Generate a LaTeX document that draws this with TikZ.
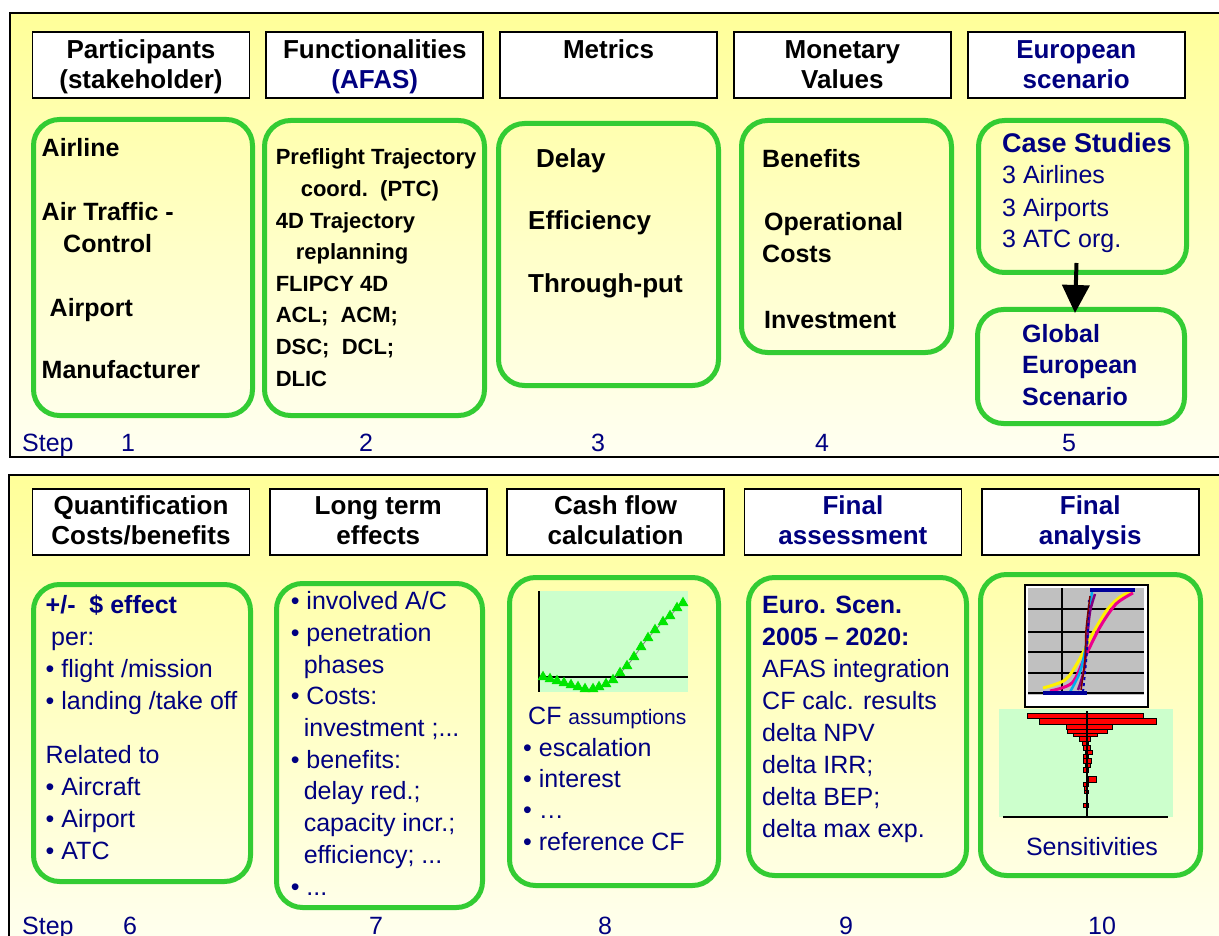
\documentclass[tikz,border=0pt]{standalone}
\usepackage{fontspec}
\setmainfont{Liberation Sans}
\usepackage{xcolor}
\usepackage{tikz}
\usetikzlibrary{arrows.meta,positioning,calc,plotmarks}

\definecolor{navy}{RGB}{0,0,128}
\definecolor{boxgreen}{RGB}{51,204,51}
\definecolor{paleyellow}{RGB}{255,255,153}
\definecolor{paleend}{RGB}{255,255,242}
\definecolor{mint}{RGB}{204,255,204}
\definecolor{markgreen}{RGB}{0,230,0}
\definecolor{silver}{RGB}{192,192,192}

\newcommand\hdfont{\fontsize{26}{30}\selectfont\bfseries}
\newcommand\bdfont{\fontsize{25}{32}\selectfont}

\begin{document}
\begin{tikzpicture}[
  x=1pt, y=-1pt,
  node distance=15pt,
  >=Latex,
  head/.style={draw, line width=1.8pt, fill=white, minimum width=217pt, minimum height=66pt,
    align=center, inner sep=0pt, font=\hdfont},
  headtxt/.style={anchor=base, inner sep=0pt, font=\hdfont},
  gbox/.style={draw=boxgreen, line width=5pt, rounded corners=26pt, anchor=north west, inner sep=0pt},
  txt/.style={anchor=base west, align=left, inner sep=0pt, font=\bdfont},
  stepno/.style={anchor=base, inner sep=0pt, text=navy, font=\fontsize{25}{30}\selectfont},
  panel/.style={draw, line width=2pt, top color=paleyellow, bottom color=paleend},
  bar/.style={draw, fill=red, line width=0.8pt}
]
\useasboundingbox (0,0) rectangle (1219,936);
\clip (0,0) rectangle (1219,936);

% two panels
\draw[panel] (10,13) rectangle (1240,457);
\draw[panel] (9,475) rectangle (1240,960);

% ---- steps 1 to 5
\node[head] (h1) at (141,65) {};
\node[head, right=of h1] (h2) {};
\node[head, right=of h2] (h3) {};
\node[head, right=of h3] (h4) {};
\node[head, right=of h4] (h5) {};
% header texts, two lines each
\foreach \n/\a/\b in {h1/Participants/(stakeholder), h2/Functionalities/\textcolor{navy}{(AFAS)},
    h3/Metrics/{}, h4/Monetary/Values, h5/\textcolor{navy}{European}/\textcolor{navy}{scenario}} {
  \node[headtxt] (\n-a) at ([yshift=-27pt]\n.north) {\a};
  \node[headtxt] (\n-b) at ([yshift=-57pt]\n.north) {\b};
}

\node[gbox, minimum width=219pt, minimum height=296pt] (g1) at (31,117) {};
\node[gbox, minimum width=220pt, minimum height=295pt] (g2) at (262,118) {};
\node[gbox, minimum width=220pt, minimum height=262pt] (g3) at (496,121) {};
\node[gbox, minimum width=210pt, minimum height=232pt] (g4) at (739,118) {};
\node[gbox, minimum width=208pt, minimum height=152pt] (g5a) at (976,118) {};
\node[gbox, minimum width=207pt, minimum height=114pt] (g5b) at (975,307) {};

% text blocks sit on the baseline of their last line
\node[txt, font=\bdfont\bfseries] (t1) at (41.5,378)
  {Airline\\[32pt]Air Traffic -\\\hspace*{21.5pt}Control\\[32pt]\hspace*{8pt}Airport\\[30pt]Manufacturer};
\node[txt, font=\fontsize{22}{31.6}\selectfont\bfseries] (t2) at (275.6,386)
  {Preflight Trajectory\\\hspace*{25pt}coord.~~(PTC)\\4D Trajectory\\\hspace*{20pt}replanning\\FLIPCY 4D\\ACL;~~ACM;\\DSC;~~DCL;\\DLIC};
\node[txt, font=\fontsize{26}{31.5}\selectfont\bfseries] (t3) at (528,293)
  {\hspace*{8pt}Delay\\[31.5pt]Efficiency\\[31.5pt]Through-put};
\node[txt, font=\bdfont\bfseries] (t4) at (762,328)
  {Benefits\\[31pt]\hspace*{2pt}Operational\\Costs\\[34pt]\hspace*{2pt}Investment};
\node[txt, text=navy] (t5a) at (1002,248)
  {{\fontsize{27}{32}\selectfont\bfseries Case Studies}\\3 Airlines\\3 Airports\\3 ATC org.};
\node[txt, text=navy, font=\fontsize{25}{31.5}\selectfont\bfseries] (t5b) at (1022,405)
  {Global\\European\\Scenario};

\draw[line width=4pt, -{Triangle[width=27pt,length=28pt]}]
  ([xshift=-6pt,yshift=12pt]g5a.south) -- ([xshift=-6pt,yshift=-6pt]g5b.north);

\node[stepno, anchor=base west] (s0) at (22,451) {Step};
\node[stepno] (s1) at (128,451) {1};
\node[stepno] (s2) at (366,451) {2};
\node[stepno] (s3) at (598,451) {3};
\node[stepno] (s4) at (822,451) {4};
\node[stepno] (s5) at (1069,451) {5};

% ---- steps 6 to 10
\begin{scope}[node distance=18.5pt]
\node[head] (h6) at (141,522) {};
\node[head, right=of h6] (h7) {};
\node[head, right=of h7] (h8) {};
\node[head, right=of h8] (h9) {};
\node[head, right=of h9] (h10) {};
\end{scope}
\foreach \n/\a/\b in {h6/Quantification/{Costs/benefits}, h7/Long term/effects,
    h8/Cash flow/calculation, h9/\textcolor{navy}{Final}/\textcolor{navy}{assessment},
    h10/\textcolor{navy}{Final}/\textcolor{navy}{analysis}} {
  \node[headtxt] (\n-a) at ([yshift=-26pt]\n.north) {\a};
  \node[headtxt] (\n-b) at ([yshift=-56pt]\n.north) {\b};
}

\node[gbox, minimum width=217pt, minimum height=297pt] (g6) at (31,582) {};
\node[gbox, minimum width=206pt, minimum height=324pt] (g7) at (274,581) {};
\node[gbox, minimum width=209pt, minimum height=308pt] (g8) at (507,575) {};
\node[gbox, minimum width=218pt, minimum height=298pt] (g9) at (746,575) {};
\node[gbox, minimum width=220pt, minimum height=301pt] (g10) at (978,572) {};

\node[txt, text=navy] (t6) at (45.5,859)
  {{\bfseries +/-~~\$ effect}\\\hspace*{5.5pt}per:\\\textbullet\ flight /mission\\\textbullet\ landing /take off\\[22pt]Related to\\\textbullet\ Aircraft\\\textbullet\ Airport\\\textbullet\ ATC};
\node[txt, text=navy, font=\fontsize{25}{31.7}\selectfont] (t7) at (290.6,895)
  {\textbullet\ involved A/C\\\textbullet\ penetration\\\hspace*{13pt}phases\\\textbullet\ Costs:\\\hspace*{13pt}investment ;...\\\textbullet\ benefits:\\\hspace*{13pt}delay red.;\\\hspace*{13pt}capacity incr.;\\\hspace*{13pt}efficiency; ...\\\textbullet\ ...};
\node[txt, text=navy, font=\fontsize{25}{31.3}\selectfont] (t8) at (523,850)
  {\hspace*{5pt}CF {\fontsize{21}{31.3}\selectfont assumptions}\\\textbullet\ escalation\\\textbullet\ interest\\\textbullet\ \ldots\\\textbullet\ reference CF};
\node[txt, text=navy] (t9) at (762,837)
  {{\bfseries Euro. Scen.}\\{\bfseries 2005 -- 2020:}\\AFAS integration\\CF calc. results\\delta NPV\\delta IRR;\\delta BEP;\\delta max exp.};
\node[anchor=base, inner sep=0pt, text=navy, font=\bdfont] (t10) at (1092,855) {Sensitivities};

% cash flow chart
\fill[mint] (539,591) rectangle (688,692);
\draw[line width=1.5pt] (539,591) -- (539,692);
\draw[line width=1.5pt] (539,677) -- (688,677);
\draw[gray, line width=0.8pt] plot[mark=triangle*, mark size=5.5pt,
    mark options={draw=markgreen, fill=markgreen}] coordinates {
  (543,677) (550,679) (557,681) (564,683) (571,685) (578,687) (585,689)
  (593,689) (599,687) (606,684) (613,680) (620,673) (627,666) (634,657)
  (641,647) (648,638) (655,630) (663,622) (670,616) (677,608) (683,603)};

% sensitivity charts
\draw[line width=2.5pt, fill=white] (1025,585) rectangle (1148,707);
\fill[silver] (1028,588) rectangle (1144,695);
\foreach \y in {609,632,652,673,693}
  \draw[line width=1.5pt] (1028,\y) -- (1144,\y);
\draw[line width=1.5pt] (1062,588) -- (1062,693);
\begin{scope}
\clip (1028,586) rectangle (1144,696);
\draw[yellow, line width=3pt] plot[smooth] coordinates {(1043,688) (1065,680) (1078,662) (1093,633) (1107,610) (1120,597) (1133,591)};
\draw[magenta, line width=3pt] plot[smooth] coordinates {(1050,691) (1072,683) (1085,657) (1100,627) (1116,604) (1133,593)};
\draw[cyan, line width=2.5pt] plot[smooth] coordinates {(1070,692) (1080,672) (1086,645) (1088,620) (1092,592)};
\draw[violet, line width=2.5pt] plot[smooth] coordinates {(1078,690) (1084,670) (1087,640) (1090,612) (1095,594)};
\draw[blue!70!black, line width=2pt, dashed] plot[smooth] coordinates {(1083,692) (1087,650) (1089,600)};
\draw[red!50!black, line width=1.5pt] plot[smooth] coordinates {(1081,690) (1085,660) (1086,630) (1090,596)};
\draw[blue!60!black, line width=4pt] (1090,590) -- (1135,590);
\draw[blue!60!black, line width=4pt] (1043,693) -- (1087,693);
\end{scope}

\fill[mint] (999,709) rectangle (1173,817);
\foreach \l/\r/\t/\b in {1027/1143/713/718, 1039/1156/718/724, 1066/1112/724/729,
    1067/1107/729/733, 1073/1097/733/736, 1079/1090/736/741, 1082/1088/741/745,
    1083/1090/745/750, 1085/1092/750/754, 1083/1088/754/758, 1083/1091/758/763,
    1085/1090/763/767, 1083/1088/767/772, 1088/1096/776/782, 1083/1088/782/786,
    1084/1087/786/790, 1084/1088/790/793, 1083/1088/803/807}
  \draw[bar] (\l,\t) rectangle (\r,\b);
\draw[line width=2pt] (1087,711) -- (1087,817);
\draw[line width=1.5pt] (1003,817) -- (1168,817);

\node[stepno, anchor=base west] (s00) at (22,934) {Step};
\node[stepno] (s6) at (130,934) {6};
\node[stepno] (s7) at (376,934) {7};
\node[stepno] (s8) at (605,934) {8};
\node[stepno] (s9) at (846,934) {9};
\node[stepno] (s10) at (1102,934) {10};
\end{tikzpicture}
\end{document}
